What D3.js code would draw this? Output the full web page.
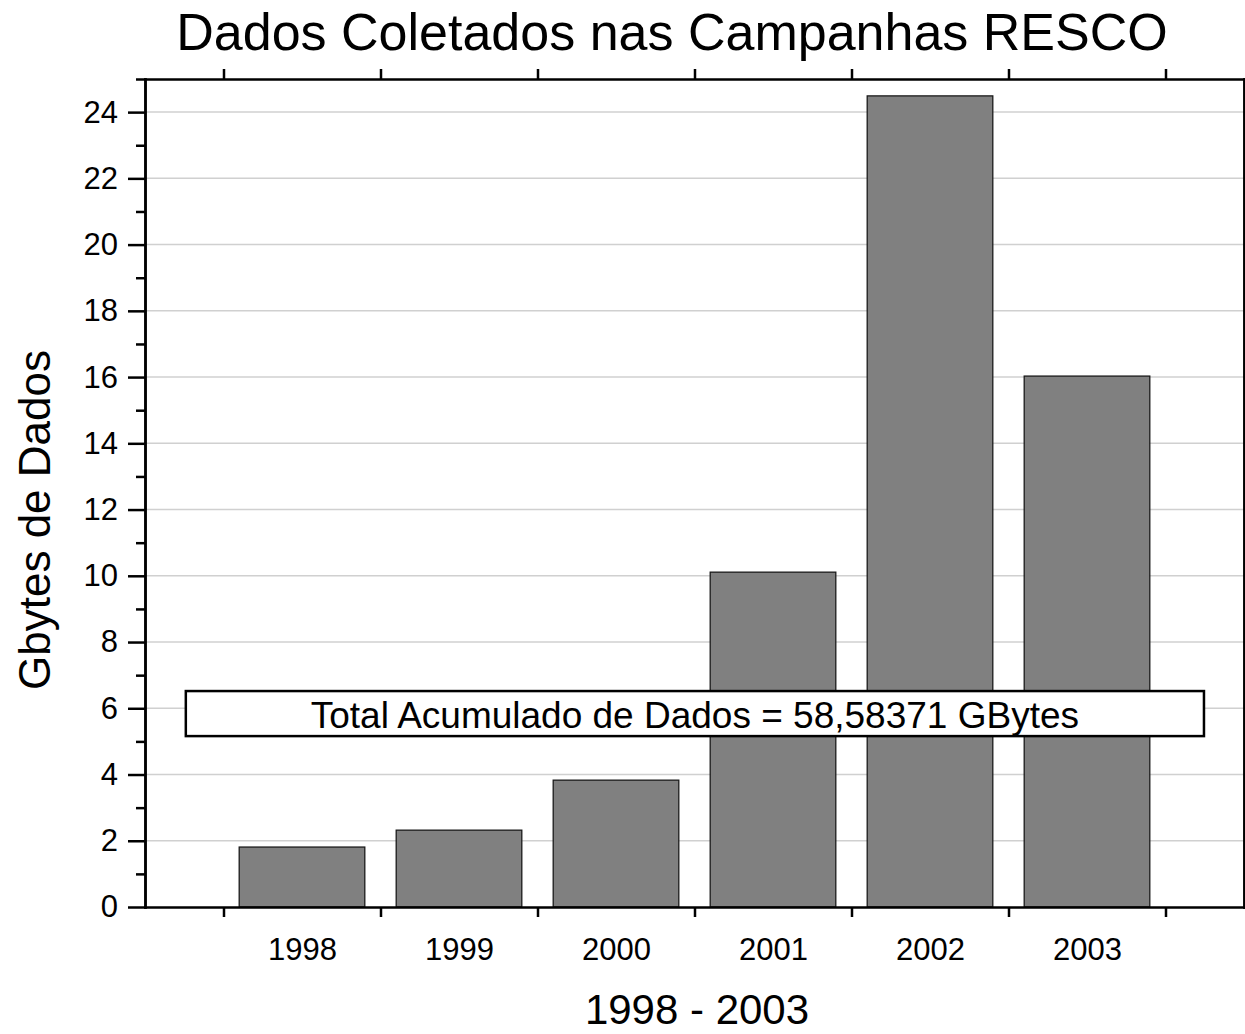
<!DOCTYPE html>
<html>
<head>
<meta charset="utf-8">
<script src="https://cdn.jsdelivr.net/npm/d3@7"></script>
<style>
  body { margin: 0; background: #fff; }
  svg { display: block; font-family: "Liberation Sans", Arial, sans-serif; }
</style>
</head>
<body>
<div id="container"></div>
<script>
const width = 1245,
  height = 1034,
  margin = { top: 79, bottom: 127, left: 145, right: 1 }

/* DATA */
const years = [1998, 1999, 2000, 2001, 2002, 2003]
const gbytes = [1.81, 2.32, 3.83, 10.11, 24.49, 16.03]
const yMajorTicks = [0, 2, 4, 6, 8, 10, 12, 14, 16, 18, 20, 22, 24]
const yMinorTicks = [1, 3, 5, 7, 9, 11, 13, 15, 17, 19, 21, 23, 25]
const xSepTicks = [1997.5, 1998.5, 1999.5, 2000.5, 2001.5, 2002.5, 2003.5]
const totalLabel = "Total Acumulado de Dados = 58,58371 GBytes"

const data = years.map((y, i) => ({ year: y, value: gbytes[i] }))

// SCALES
const xScale = d3.scaleLinear()
  .domain([1997, 2004])
  .range([margin.left, width - margin.right])

const yScale = d3.scaleLinear()
  .domain([0, 25])
  .range([height - margin.bottom, margin.top])

const svg = d3.select("#container")
  .append("svg")
  .attr("width", width)
  .attr("height", height)

// grid lines
svg.append("g")
  .selectAll("line")
  .data(yMajorTicks.filter(d => d > 0))
  .join("line")
  .attr("x1", xScale(1997))
  .attr("x2", xScale(2004))
  .attr("y1", d => yScale(d))
  .attr("y2", d => yScale(d))
  .attr("stroke", "#d0d0d0")
  .attr("stroke-width", 1.5)

// BARS
svg.selectAll(".bar")
  .data(data)
  .join("rect")
  .attr("class", "bar")
  .attr("x", d => xScale(d.year - 0.4))
  .attr("width", d => xScale(d.year + 0.4) - xScale(d.year - 0.4))
  .attr("y", d => yScale(d.value))
  .attr("height", d => yScale(0) - yScale(d.value))
  .attr("fill", "#808080")
  .attr("stroke", "#1a1a1a")
  .attr("stroke-width", 1.3)

// AXES
function styleAxis(g) {
  g.selectAll("path.domain").attr("stroke", "#000").attr("stroke-width", 2.5).attr("stroke-linecap", "square")
  g.selectAll(".tick line").attr("stroke", "#000").attr("stroke-width", 2.5)
  g.selectAll(".tick text").attr("fill", "#000").style("font-size", "31px").style("font-family", "Liberation Sans, Arial, sans-serif")
}

// left
svg.append("g")
  .attr("transform", `translate(${margin.left},0)`)
  .call(d3.axisLeft(yScale).tickValues(yMinorTicks).tickSize(9).tickSizeOuter(0).tickFormat(""))
  .call(styleAxis)
svg.append("g")
  .attr("transform", `translate(${margin.left},0)`)
  .call(d3.axisLeft(yScale).tickValues(yMajorTicks).tickSize(17).tickPadding(10).tickSizeOuter(0).tickFormat(d3.format("d")))
  .call(styleAxis)

// right
svg.append("g")
  .attr("transform", `translate(${width - margin.right},0)`)
  .call(d3.axisRight(yScale).tickValues(yMinorTicks).tickSize(9).tickSizeOuter(0).tickFormat(""))
  .call(styleAxis)
svg.append("g")
  .attr("transform", `translate(${width - margin.right},0)`)
  .call(d3.axisRight(yScale).tickValues(yMajorTicks).tickSize(17).tickSizeOuter(0).tickFormat(""))
  .call(styleAxis)

// bottom
svg.append("g")
  .attr("transform", `translate(0,${height - margin.bottom})`)
  .call(d3.axisBottom(xScale).tickValues(xSepTicks).tickSize(10).tickSizeOuter(0).tickFormat(""))
  .call(styleAxis)
svg.append("g")
  .attr("transform", `translate(0,${height - margin.bottom})`)
  .call(d3.axisBottom(xScale).tickValues(years).tickSize(0).tickPadding(31).tickFormat(d3.format("d")))
  .call(g => g.select(".domain").remove())
  .call(styleAxis)

// top
svg.append("g")
  .attr("transform", `translate(0,${margin.top})`)
  .call(d3.axisTop(xScale).tickValues(xSepTicks).tickSize(10).tickSizeOuter(0).tickFormat(""))
  .call(styleAxis)

// annotation box
const box = { x0: 1997.26, x1: 2003.745, y0: 5.16, y1: 6.52 }
svg.append("rect")
  .attr("x", xScale(box.x0))
  .attr("y", yScale(box.y1))
  .attr("width", xScale(box.x1) - xScale(box.x0))
  .attr("height", yScale(box.y0) - yScale(box.y1))
  .attr("fill", "#fff")
  .attr("stroke", "#000")
  .attr("stroke-width", 2.5)

svg.append("text")
  .attr("x", (xScale(box.x0) + xScale(box.x1)) / 2)
  .attr("y", yScale(box.y0) - 8)
  .attr("text-anchor", "middle")
  .style("font-size", "37px")
  .text(totalLabel)

// TITLES
svg.append("text")
  .attr("x", 672)
  .attr("y", 50)
  .attr("text-anchor", "middle")
  .style("font-size", "52px")
  .text("Dados Coletados nas Campanhas RESCO")

svg.append("text")
  .attr("x", 697)
  .attr("y", 1024)
  .attr("text-anchor", "middle")
  .style("font-size", "42px")
  .text("1998 - 2003")

svg.append("text")
  .attr("transform", "translate(50,520) rotate(-90)")
  .attr("text-anchor", "middle")
  .style("font-size", "44px")
  .text("Gbytes de Dados")
</script>
</body>
</html>
